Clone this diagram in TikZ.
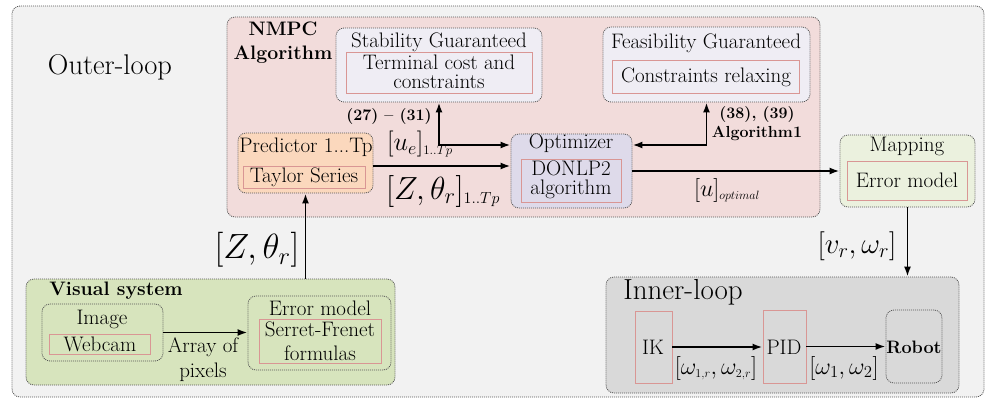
\RequirePackage{fix-cm}
\documentclass[tikz,border=0pt]{standalone}
\usetikzlibrary{arrows.meta,calc}
\definecolor{outerfill}{HTML}{F2F2F2}
\definecolor{nmpcfill}{HTML}{F2DCDB}
\definecolor{guarfill}{HTML}{EFEDF4}
\definecolor{predfill}{HTML}{FBD8BD}
\definecolor{optfill}{HTML}{DEDAEA}
\definecolor{mapfill}{HTML}{EBF1DE}
\definecolor{visfill}{HTML}{D7E4BD}
\definecolor{innerfill}{HTML}{D9D9D9}
\definecolor{redline}{HTML}{D99694}
\definecolor{dotline}{HTML}{555555}
\newcommand\fsz[2]{\fontsize{#1}{#2}\selectfont}
\tikzset{
  dotbox/.style={draw=dotline, line width=0.8pt, dash pattern=on 1pt off 1pt, rounded corners=8pt, inner sep=0pt},
  redbox/.style={draw=redline, line width=0.9pt, inner sep=0pt},
  lbl/.style={inner sep=0pt, align=center, font=\fsz{21}{19}},
  arr/.style={line width=1.9pt, -{Latex[length=10pt,width=7pt]}},
  darr/.style={line width=1.9pt, {Latex[length=10pt,width=7pt]}-{Latex[length=10pt,width=7pt]}},
}
\newcommand\bx[6]{% style, name, x1, y1, x2, y2
  \node[#1, minimum width=#5-#3, minimum height=#6-#4] (#2) at ({(#3+#5)/2},{(#4+#6)/2}) {};}
\begin{document}
\begin{tikzpicture}[x=1pt,y=-1pt]
\useasboundingbox (0,0) rectangle (986,400);
% containers
\bx{dotbox,fill=outerfill}{outer}{12}{6}{984}{397}
\bx{dotbox,fill=nmpcfill}{nmpc}{227}{17}{820}{217}
\bx{dotbox,fill=guarfill}{stab}{336}{28}{542}{102}
\bx{redbox,fill=guarfill}{stabin}{346}{52}{532}{93}
\bx{dotbox,fill=guarfill}{feas}{603}{27}{810}{102}
\bx{redbox,fill=guarfill}{feasin}{612}{60}{799}{93}
\bx{dotbox,fill=predfill}{pred}{238}{133}{373}{193}
\bx{redbox,fill=predfill}{predin}{243}{166}{365}{188}
\bx{dotbox,fill=optfill}{opt}{511}{134}{632}{208}
\bx{redbox,fill=optfill}{optin}{521}{159}{621}{202}
\bx{dotbox,fill=mapfill}{map}{840}{135}{975}{207}
\bx{redbox,fill=mapfill}{mapin}{847}{161}{967}{200}
\bx{dotbox,fill=visfill}{vis}{26}{279}{395}{385}
\bx{dotbox,fill=visfill}{img}{42}{304}{163}{361}
\bx{redbox,fill=visfill}{imgin}{49}{334}{150}{354}
\bx{dotbox,fill=visfill}{err}{248}{296}{391}{370}
\bx{redbox,fill=visfill}{errin}{259}{319}{381}{363}
\bx{dotbox,fill=innerfill}{inner}{606}{277}{959}{393}
\bx{redbox,fill=innerfill}{ik}{635}{311}{672}{383}
\bx{redbox,fill=innerfill}{pid}{763}{310}{806}{383}
\bx{dotbox,fill=innerfill}{robot}{886}{310}{942}{383}
% texts
\node[lbl, font=\fsz{28.5}{30}] (touter) at (110,67) {Outer-loop};
\node[lbl, font=\fsz{19.5}{24}\bfseries] (tnmpc) at (283,43) {NMPC\\Algorithm};
\node[lbl] (tstab) at (439,42) {Stability Guaranteed};
\node[lbl] (tstabin) at (439,72) {Terminal cost and\\constraints};
\node[lbl] (tfeas) at (706,43) {Feasibility Guaranteed};
\node[lbl] (tfeasin) at (706,77) {Constraints relaxing};
\node[lbl, font=\fsz{16}{16}\bfseries] (teq1) at (389,117) {(27) -- (31)};
\node[lbl, font=\fsz{16}{19}\bfseries] (teq2) at (757,124) {(38), (39)\\Algorithm1};
\node[lbl] (tpred) at (306,147) {Predictor 1...Tp};
\node[lbl] (tpredin) at (304,177) {Taylor Series};
\node[lbl] (topt) at (571,143) {Optimizer};
\node[lbl] (toptin) at (571,180) {DONLP2\\algorithm};
\node[lbl] (tmap) at (907,146) {Mapping};
\node[lbl] (tmapin) at (907,180) {Error model};
\node[lbl, font=\fsz{26}{28}] (tue) at (420,144) {$[u_e]_{\scriptscriptstyle 1..Tp}$};
\node[lbl, font=\fsz{32}{34}] (tzt1) at (443,191) {$[Z,\theta_r]_{\scriptscriptstyle 1..Tp}$};
\node[lbl, font=\fsz{24}{26}] (tuopt) at (727,190) {$[u]_{\scriptscriptstyle optimal}$};
\node[lbl, font=\fsz{35}{38}] (tzt2) at (257,250) {$[Z,\theta_r]$};
\node[lbl, font=\fsz{29}{34}] (tvw) at (857,246) {$[v_r,\omega_r]$};
\node[lbl, font=\fsz{19.5}{20}\bfseries] (tvis) at (116,291) {Visual system};
\node[lbl] (timg) at (102,319) {Image};
\node[lbl] (timgin) at (100,344) {Webcam};
\node[lbl, font=\fsz{21}{25}] (tarr) at (203,360) {Array of\\pixels};
\node[lbl] (terr) at (320,308) {Error model};
\node[lbl, font=\fsz{21}{24}] (terrin) at (320,341) {Serret-Frenet\\formulas};
\node[lbl, font=\fsz{29}{30}] (tinner) at (683,292) {Inner-loop};
\node[lbl] (tik) at (653,347) {IK};
\node[lbl] (tpid) at (784,347) {PID};
\node[lbl, font=\fsz{18}{20}\bfseries] (trobot) at (914,347) {Robot};
\node[lbl, font=\fsz{24}{26}] (tw1) at (716,368) {$[\omega_{\scriptscriptstyle 1,r},\omega_{\scriptscriptstyle 2,r}]$};
\node[lbl, font=\fsz{24}{26}] (tw2) at (844,368) {$[\omega_1,\omega_2]$};
% connectors
\draw[arr] ([yshift=-3pt]pred.east) -- ([yshift=-3pt]pred.east -| opt.west);
\draw[darr] (stab.south) |- ([yshift=26pt]opt.west);
\draw[darr] (feas.south) |- ([yshift=26pt]opt.east);
\draw[arr] (opt.east) -- (map.west);
\draw[arr] (vis.north -| pred.south) -- (pred.south);
\draw[arr] (map.south) -- (map.south |- inner.north);
\draw[arr] (img.east) -- (img.east -| err.west);
\draw[arr] (ik.east) -- (ik.east -| pid.west);
\draw[arr] (pid.east) -- (pid.east -| robot.west);
\end{tikzpicture}
\end{document}
